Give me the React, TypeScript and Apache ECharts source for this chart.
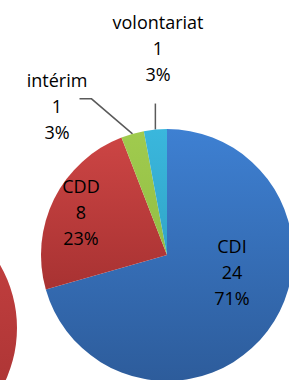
import React, { useEffect, useRef } from "react";
import * as echarts from "echarts";

const categories = ["CDI", "CDD", "intérim", "volontariat"];
const values = [24, 8, 1, 1];
const percentLabels = ["71%", "23%", "3%", "3%"];
const neighbourValues = [1];

const sliceColors: [string, string][] = [
  ["#3E80D2", "#2D5C9B"],
  ["#CC4544", "#A83232"],
  ["#A0CB4E", "#93BE45"],
  ["#3AB7DD", "#31A5C8"],
];

// label block centres (x, y)
const labelCentres: [number, number][] = [
  [232, 272],
  [81, 212],
  [57, 106],
  [158, 48],
];

function grad(c: [string, string]) {
  return new echarts.graphic.LinearGradient(0, 0, 0, 1, [
    { offset: 0, color: c[0] },
    { offset: 1, color: c[1] },
  ]);
}

export default function App() {
  const ref = useRef<HTMLDivElement>(null);
  useEffect(() => {
    document.body.style.margin = "0";
    if (!ref.current) return;
    const chart = echarts.init(ref.current, null, { renderer: "svg" });
    const font = { fontFamily: "Open Sans", fontSize: 18, lineHeight: 26, color: "#000" };
    chart.setOption({
      animation: false,
      backgroundColor: "#fff",
      series: [
        {
          type: "pie",
          silent: true,
          center: [-109, 328],
          radius: 126,
          label: { show: false },
          labelLine: { show: false },
          data: neighbourValues.map((v) => ({
            value: v,
            itemStyle: {
              color: new echarts.graphic.LinearGradient(0, 0, 0, 1, [
                { offset: 0, color: "#C84242" },
                { offset: 1, color: "#A53131" },
              ]),
            },
          })),
        },
        {
          type: "pie",
          silent: true,
          center: [167, 255],
          radius: 126,
          startAngle: 90,
          clockwise: true,
          itemStyle: { borderWidth: 0 },
          label: {
            show: true,
            ...font,
            overflow: "none",
            edgeDistance: 0,
            bleedMargin: 0,
            formatter: (p: any) => `${p.name}\n${p.value}\n${percentLabels[p.dataIndex]}`,
          },
          labelLine: {
            show: true,
            length: 26,
            length2: 12,
            lineStyle: { color: "#5A5A5A", width: 1.5 },
          },
          labelLayout: (p: any) => {
            const i = p.dataIndex;
            const res: any = {
              x: labelCentres[i][0],
              y: labelCentres[i][1],
              align: "center",
              verticalAlign: "middle",
            };
            if (i >= 2 && p.labelLinePoints) {
              const p0 = p.labelLinePoints[0];
              if (i === 2) {
                const p1 = [p0[0] - 41, p0[1] - 35];
                const p2 = [p1[0] - 12, p1[1]];
                res.labelLinePoints = [p0, p1, p2];
              } else {
                const p1 = [p0[0], p0[1] - 26];
                res.labelLinePoints = [p0, p1, p1];
              }
            }
            return res;
          },
          data: categories.map((name, i) => ({
            name,
            value: values[i],
            itemStyle: { color: grad(sliceColors[i]) },
            label: i < 2 ? { position: "inside" } : { position: "outside", overflow: "none", width: 120 },
            labelLine: { show: i >= 2 },
          })),
        },
      ],
    });
    return () => chart.dispose();
  }, []);
  return <div ref={ref} style={{ width: 289, height: 380 }} />;
}
